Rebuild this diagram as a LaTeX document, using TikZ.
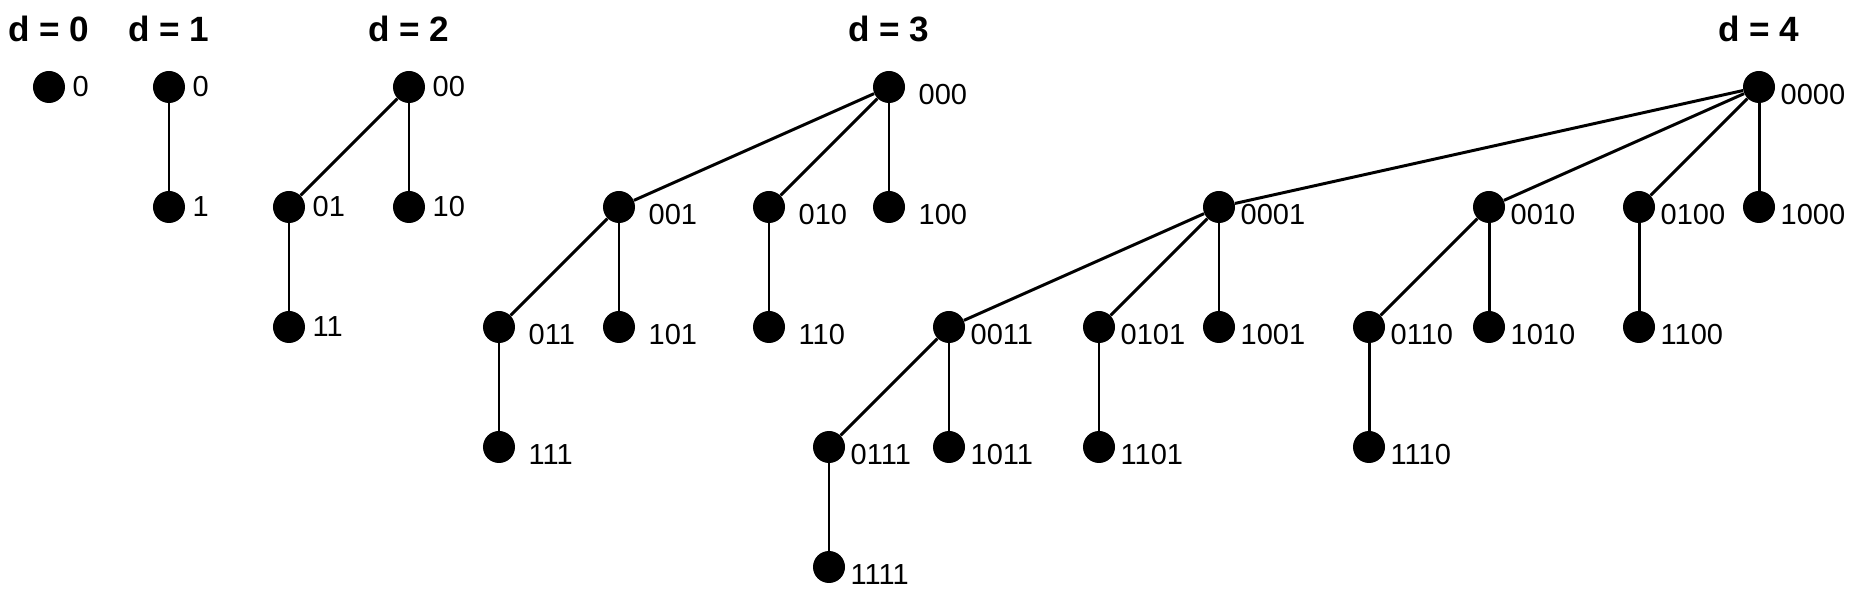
\documentclass[tikz,border=0pt]{standalone}
\usepackage{fontspec}
\setmainfont{Liberation Sans}
\usetikzlibrary{positioning}

\begin{document}
\begin{tikzpicture}[x=2.4cm,y=2.4cm,
  dot/.style={circle,fill=black,inner sep=0pt,minimum size=0.64cm},
  lbl/.style={inner sep=0pt,font=\fontsize{16.5}{19}\selectfont},
  ttl/.style={inner sep=0pt,font=\fontsize{20}{24}\selectfont\bfseries},
  lblnear/.style={every label/.style={lbl,label distance=0.14cm}},
  lblmid/.style={every label/.style={lbl,label distance=0.26cm,yshift=-0.16cm}},
  lblfar/.style={every label/.style={lbl,label distance=0.1cm,yshift=-0.16cm}},
  link/.style={line width=1.7pt}]
  \useasboundingbox (-0.4083,-4.3083) rectangle (15.0917,0.725);

  \begin{scope}[lblnear]
    \node[dot,label=right:0] (a0) at (0,0) {};
    \node[ttl,above=0.56cm of a0] (ta) {d = 0};

    \node[dot,label=right:0] (b0) at (1,0) {};
    \node[dot,label=right:1] (b1) at (1,-1) {};
    \node[ttl,above=0.56cm of b0] (tb) {d = 1};
    \draw[link] (b0) -- (b1);

    \node[dot,label=right:00] (c00) at (3,0) {};
    \node[dot,label=right:01] (c01) at (2,-1) {};
    \node[dot,label=right:10] (c10) at (3,-1) {};
    \node[dot,label=right:11] (c11) at (2,-2) {};
    \node[ttl,above=0.56cm of c00] (tc) {d = 2};
    \foreach \p/\c in {c00/c01,c00/c10,c01/c11}
      \draw[link] (\p) -- (\c);
  \end{scope}

  \begin{scope}[lblmid]
    \node[dot,label=right:000] (d000) at (7,0) {};
    \node[dot,label=right:001] (d001) at (4.75,-1) {};
    \node[dot,label=right:010] (d010) at (6,-1) {};
    \node[dot,label=right:100] (d100) at (7,-1) {};
    \node[dot,label=right:011] (d011) at (3.75,-2) {};
    \node[dot,label=right:101] (d101) at (4.75,-2) {};
    \node[dot,label=right:110] (d110) at (6,-2) {};
    \node[dot,label=right:111] (d111) at (3.75,-3) {};
    \node[ttl,above=0.56cm of d000] (td) {d = 3};
    \foreach \p/\c in {d000/d001,d000/d010,d000/d100,d001/d011,d001/d101,
                       d010/d110,d011/d111}
      \draw[link] (\p) -- (\c);
  \end{scope}

  \begin{scope}[lblfar]
    \node[dot,label=right:0000] (e0000) at (14.25,0) {};
    \node[dot,label=right:0001] (e0001) at (9.75,-1) {};
    \node[dot,label=right:0010] (e0010) at (12,-1) {};
    \node[dot,label=right:0100] (e0100) at (13.25,-1) {};
    \node[dot,label=right:1000] (e1000) at (14.25,-1) {};
    \node[dot,label=right:0011] (e0011) at (7.5,-2) {};
    \node[dot,label=right:0101] (e0101) at (8.75,-2) {};
    \node[dot,label=right:1001] (e1001) at (9.75,-2) {};
    \node[dot,label=right:0110] (e0110) at (11,-2) {};
    \node[dot,label=right:1010] (e1010) at (12,-2) {};
    \node[dot,label=right:1100] (e1100) at (13.25,-2) {};
    \node[dot,label=right:0111] (e0111) at (6.5,-3) {};
    \node[dot,label=right:1011] (e1011) at (7.5,-3) {};
    \node[dot,label=right:1101] (e1101) at (8.75,-3) {};
    \node[dot,label=right:1110] (e1110) at (11,-3) {};
    \node[dot,label=right:1111] (e1111) at (6.5,-4) {};
    \node[ttl,above=0.56cm of e0000] (te) {d = 4};
    \foreach \p/\c in {e0000/e0001,e0000/e0010,e0000/e0100,e0000/e1000,
                       e0001/e0011,e0001/e0101,e0001/e1001,e0010/e0110,
                       e0010/e1010,e0100/e1100,e0011/e0111,e0011/e1011,
                       e0101/e1101,e0110/e1110,e0111/e1111}
      \draw[link] (\p) -- (\c);
  \end{scope}
\end{tikzpicture}
\end{document}
